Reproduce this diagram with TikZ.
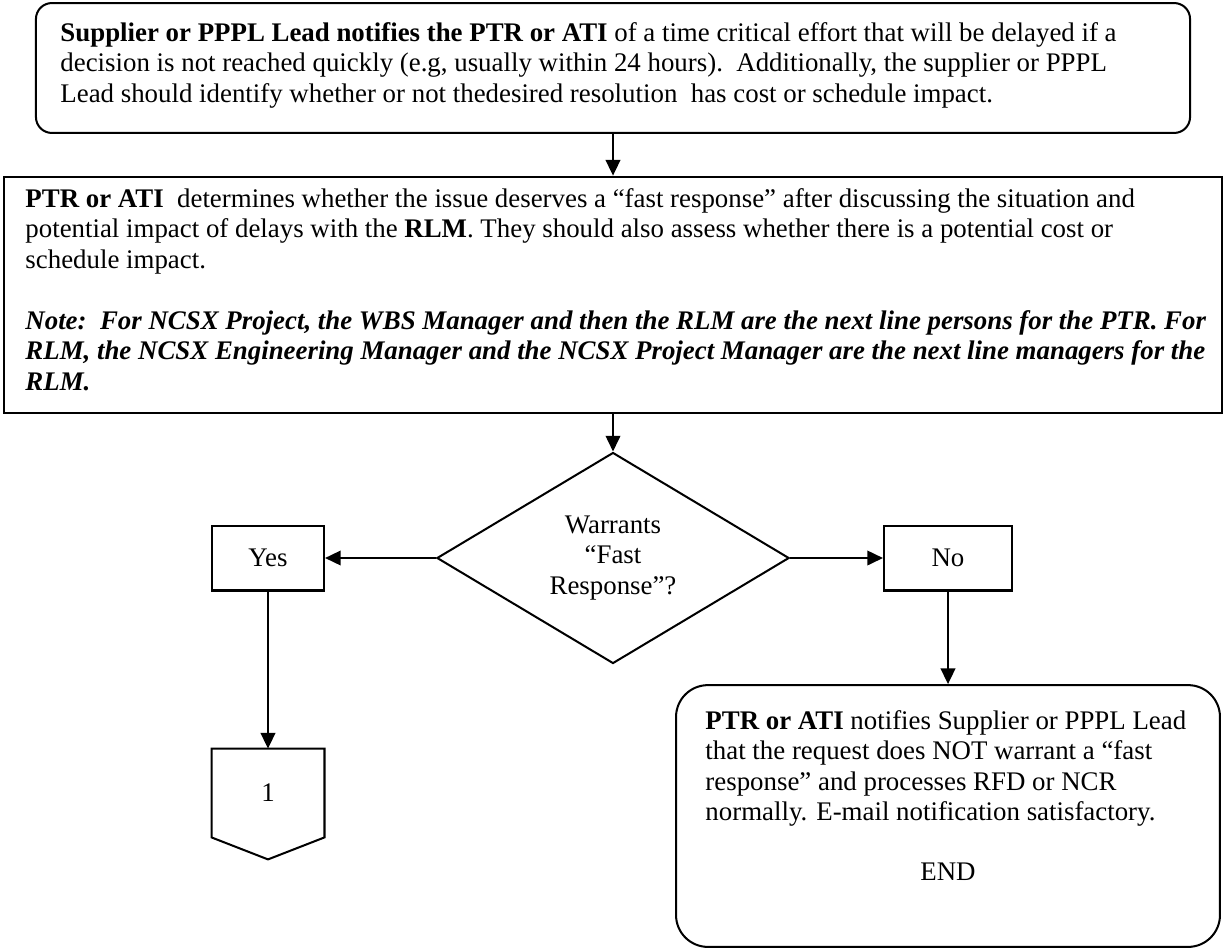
\documentclass[tikz,border=0pt]{standalone}
\usepackage{fontspec}
\setmainfont{Liberation Serif}
\usetikzlibrary{positioning,calc,shapes.geometric,arrows.meta}

\begin{document}
\begin{tikzpicture}[x=0.0157cm, y=-0.0157cm,
		every node/.style={font=\fontsize{12pt}{13.6pt}\selectfont},
		box/.style={draw, rectangle, line width=0.9pt},
		rbox/.style={box, rounded corners=0.25cm},
		txt/.style={inner sep=0pt, align=left, anchor=north west},
		decision/.style={draw, diamond, line width=0.9pt, minimum width=5.53cm, minimum height=3.01cm, inner sep=0pt, align=center},
		answer/.style={box, minimum width=1.76cm, minimum height=1.02cm},
		line/.style={-{Triangle[width=6.5pt,length=7pt]}, line width=0.9pt}
		]
		
		\useasboundingbox (0,0) rectangle (1225,948);
		
		% ======================
		% Request
		% ======================
		\node[rbox, minimum width=18.12cm, minimum height=2.04cm] (notify) at (613,68) {};
		\node[txt] (notifytxt) at (60,22)
		{\textbf{Supplier or PPPL Lead notifies the PTR or ATI} of a time critical effort that will be delayed if a\\
			decision is not reached quickly (e.g, usually within 24 hours).\ \ Additionally, the supplier or PPPL\\
			Lead should identify whether or not thedesired resolution\ \ has cost or schedule impact.};
		
		% ======================
		% Assessment
		% ======================
		\node[box, line width=1.1pt, minimum width=19.12cm, minimum height=3.71cm] (assess) at (613,295) {};
		\node[txt] (assesstxt) at (25,188)
		{\textbf{PTR or ATI}\ \ determines whether the issue deserves a “fast response” after discussing the situation and\\
			potential impact of delays with the \textbf{RLM}. They should also assess whether there is a potential cost or\\
			schedule impact.\\[13.6pt]
			\textbf{\textit{Note:\ \ For NCSX Project, the WBS Manager and then the RLM are the next line persons for the PTR. For}}\\
			\textbf{\textit{RLM, the NCSX Engineering Manager and the NCSX Project Manager are the next line managers for the}}\\
			\textbf{\textit{RLM.}}};
		
		% ======================
		% Decision
		% ======================
		\node[decision] (decide) at (613,558) {Warrants\\“Fast\\Response”?};
		
		\node[answer] (yes) at (268,558) {Yes};
		\node[answer, minimum width=2.01cm] (no) at (948,558) {No};
		
		% off-page connector
		\node[inner sep=0pt, minimum width=1.76cm, minimum height=1.38cm] (page1) at (268,793) {1};
		\draw[line width=0.9pt] (page1.south west) -- (page1.north west) -- (page1.north east)
		-- (page1.south east) -- ($(page1.south)+(0,22)$) -- cycle;
		
		% ======================
		% No fast response
		% ======================
		\node[box, rounded corners=0.5cm, minimum width=8.54cm, minimum height=4.11cm] (reject) at (948,816) {};
		\node[txt] (rejecttxt) at (705,710)
		{\textbf{PTR or ATI} notifies Supplier or PPPL Lead\\
			that the request does NOT warrant a “fast\\
			response” and processes RFD or NCR\\
			normally. E-mail notification satisfactory.};
		\node (endtxt) at (948,872) {END};
		
		% ======================
		% CONNECTIONS
		% ======================
		\draw[line] (notify) -- (assess);
		\draw[line] (assess) -- (decide);
		\draw[line] (decide) -- (yes);
		\draw[line] (decide) -- (no);
		\draw[line] (yes) -- (page1);
		\draw[line] (no) -- (reject);
		
	\end{tikzpicture}
\end{document}
